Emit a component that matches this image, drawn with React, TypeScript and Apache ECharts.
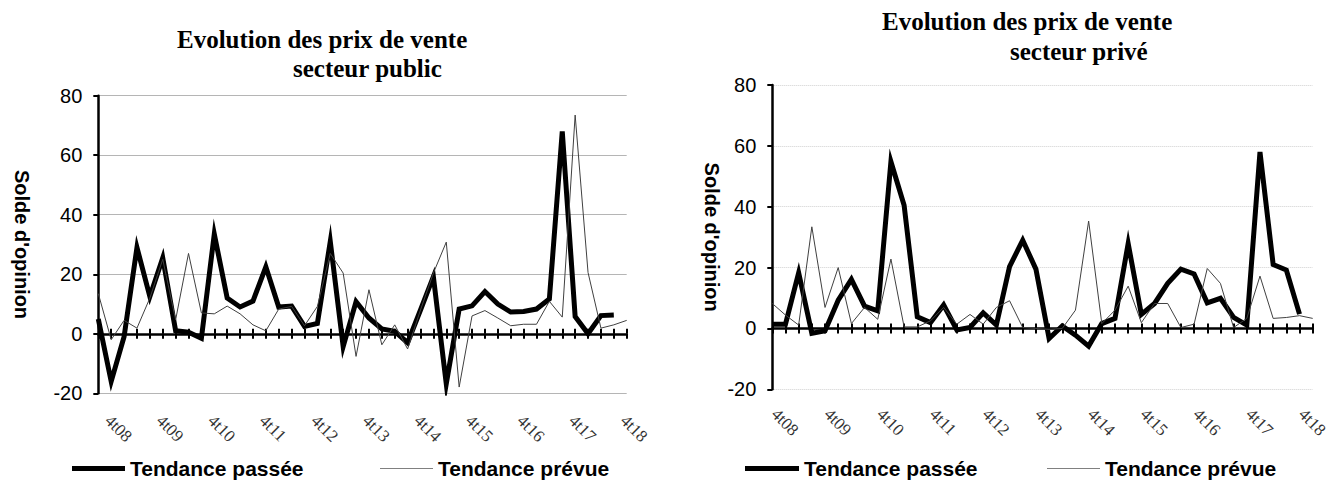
import React, { useEffect, useRef } from "react";
import * as echarts from "echarts";

const QUARTERS = ['4t08','1t09','2t09','3t09','4t09','1t10','2t10','3t10','4t10','1t11','2t11','3t11','4t11','1t12','2t12','3t12','4t12','1t13','2t13','3t13','4t13','1t14','2t14','3t14','4t14','1t15','2t15','3t15','4t15','1t16','2t16','3t16','4t16','1t17','2t17','3t17','4t17','1t18','2t18','3t18','4t18','1t19'];

const Y_TICKS = [-20, 0, 20, 40, 60, 80];

const PUBLIC_PASSEE = [5, -16, -1, 29, 12.5, 25.5, 1, 0.5, -1.5, 33.5, 12, 9, 11, 22.5, 9, 9.3, 2.5, 3.5, 31, -4.3, 10.8, 5.3, 1.6, 0.8, -3, 8, 19.2, -16.8, 8.3, 9.4, 14.2, 10, 7.3, 7.5, 8.3, 11.7, 68, 5.8, 0, 6.1, 6.3];
const PUBLIC_PREVUE = [13.5, -2, 4.5, 1.9, 12, 25, 4.7, 27, 7, 6.7, 9.3, 6.7, 3, 1, 8.3, 9.2, 2.7, 9.2, 27, 20.4, -7.6, 14.8, -3.7, 3, -5.1, 8, 20.4, 30.8, -17.9, 6, 7.8, 5.3, 2.7, 3.2, 3.2, 10.9, 5.6, 73.5, 20.6, 1.9, 3, 4.5];

const PRIVE_PASSEE = [1.4, 1.4, 18.3, -1.6, -0.8, 9.3, 16.1, 7.3, 5.8, 54.8, 40.5, 3.8, 1.9, 7.7, -0.5, 0.3, 5.1, 1.1, 20.3, 29, 19.5, -3.3, 0.8, -2.2, -5.8, 1.6, 3.3, 27.9, 4.6, 8.2, 14.8, 19.5, 17.9, 8.4, 9.9, 3.6, 1.1, 58, 21, 19.2, 4.7];
const PRIVE_PREVUE = [8.2, 4.4, 1.1, 33.4, 6.9, 20, 1.6, 6.9, 3, 22.8, 0.5, 0.5, 2.5, 6.9, 1.4, 4.6, 1.4, 6.9, 9.1, 0.3, 0, -0.3, 0, 6, 35.3, 1.6, 6, 13.9, 1.9, 8.2, 8.2, 0.3, 1.4, 19.7, 14.8, 0.3, 3.3, 17.2, 3.3, 3.6, 4.2, 3.3];

const NAME_PASSEE = "Tendance passée";
const NAME_PREVUE = "Tendance prévue";
const Y_NAME = "Solde d'opinion";
const TITLE_LINE1 = "Evolution des prix de vente";
const TITLE_PUBLIC = "secteur public";
const TITLE_PRIVE = "secteur privé";

const SANS = "'Liberation Sans', Arial, sans-serif";
const SERIF = "'Liberation Serif', 'Times New Roman', serif";

const GRIDS = [
  { left: 98.3, top: 95.7, width: 528.4, height: 297.6, nameGap: 66, label: { margin: 27, pad: 5, valign: "bottom" }, split: { color: "#b5b5b5", width: 1, type: "solid" } },
  { left: 772.3, top: 85, width: 540.4, height: 304.3, nameGap: 50, label: { margin: 20, pad: 3, valign: "middle" }, split: { color: "#d0d0d0", width: 1, type: "dotted" } },
];

function buildOption() {
  const yMin = Y_TICKS[0];
  const yMax = Y_TICKS[Y_TICKS.length - 1];
  const yInterval = Y_TICKS[1] - Y_TICKS[0];

  const xAxes: any[] = [];
  const yAxes: any[] = [];
  GRIDS.forEach((g, gi) => {
    yAxes.push({
      gridIndex: gi,
      type: "value",
      min: yMin,
      max: yMax,
      interval: yInterval,
      name: Y_NAME,
      nameLocation: "middle",
      nameRotate: -90,
      nameGap: g.nameGap,
      nameTextStyle: { fontFamily: SANS, fontWeight: "bold", fontSize: 20, color: "#000" },
      axisLine: { show: true, lineStyle: { color: "#000", width: 2.5 } },
      axisTick: { show: true, length: 5, lineStyle: { color: "#000", width: 2 } },
      axisLabel: { fontFamily: SANS, fontSize: 20, color: "#000", margin: 16 },
      splitLine: { show: true, lineStyle: g.split },
    });
    const zeroOffset = -(0 - yMin) / (yMax - yMin) * g.height;
    // labels axis (at bottom of the plot)
    xAxes.push({
      gridIndex: gi,
      type: "category",
      data: QUARTERS,
      boundaryGap: false,
      position: "bottom",
      axisLine: { show: false, onZero: false },
      axisTick: { show: false },
      splitLine: { show: false },
      axisLabel: {
        interval: 3,
        rotate: -45,
        margin: g.label.margin,
        fontFamily: SERIF,
        fontSize: 17,
        color: "#333",
        align: "left",
        verticalAlign: g.label.valign,
        padding: [0, 0, 0, g.label.pad],
      },
    });
    // zero line with downward ticks
    xAxes.push({
      gridIndex: gi,
      type: "category",
      data: QUARTERS,
      boundaryGap: false,
      position: "bottom",
      axisLine: { show: true, onZero: true, lineStyle: { color: "#000", width: 2.5 } },
      axisTick: { show: true, interval: 0, inside: false, length: 5, lineStyle: { color: "#000", width: 2 } },
      axisLabel: { show: false },
      splitLine: { show: false },
    });
    // upward ticks at zero
    xAxes.push({
      gridIndex: gi,
      type: "category",
      data: QUARTERS,
      boundaryGap: false,
      position: "bottom",
      offset: zeroOffset,
      axisLine: { show: false, onZero: false },
      axisTick: { show: true, interval: 0, inside: true, length: 5, lineStyle: { color: "#000", width: 2 } },
      axisLabel: { show: false },
      splitLine: { show: false },
    });
  });

  const mkSeries = (gi: number, passee: number[], prevue: number[]) => [
    {
      type: "line",
      name: NAME_PASSEE,
      xAxisIndex: gi * 3,
      yAxisIndex: gi,
      data: passee,
      symbol: "none",
      showSymbol: false,
      lineStyle: { color: "#000", width: 5, join: "miter", miterLimit: 8 },
      itemStyle: { color: "#000" },
      z: 3,
    },
    {
      type: "line",
      name: NAME_PREVUE,
      xAxisIndex: gi * 3,
      yAxisIndex: gi,
      data: prevue,
      symbol: "none",
      showSymbol: false,
      lineStyle: { color: "#404040", width: 1, join: "miter", miterLimit: 8 },
      itemStyle: { color: "#404040" },
      z: 4,
    },
  ];

  const legendText = { fontFamily: SANS, fontWeight: "bold", fontSize: 21, color: "#000" };
  const mkLegend = (left: number, name: string, w: number, h: number, color: string) => ({
    left,
    top: 458,
    orient: "horizontal",
    itemWidth: w,
    itemHeight: h,
    padding: 0,
    selectedMode: false,
    data: [{ name, icon: "rect", itemStyle: { color } }],
    textStyle: legendText,
  });

  const titleStyle = { fontFamily: SERIF, fontWeight: "bold", fontSize: 25, fill: "#000" };
  const mkTitle = (x: number, y: number, text: string) => ({
    type: "text",
    x,
    y,
    style: { ...titleStyle, text, textAlign: "left", textVerticalAlign: "middle", verticalAlign: "middle" },
  });

  return {
    animation: false,
    backgroundColor: "#fff",
    grid: GRIDS.map((g) => ({
      left: g.left,
      top: g.top,
      width: g.width,
      height: g.height,
      containLabel: false,
      outerBoundsMode: "none",
    })),
    xAxis: xAxes,
    yAxis: yAxes,
    legend: [
      mkLegend(72, NAME_PASSEE, 53, 5, "#000"),
      mkLegend(380, NAME_PREVUE, 53, 1, "#808080"),
      mkLegend(745, NAME_PASSEE, 54, 5, "#000"),
      mkLegend(1047, NAME_PREVUE, 53, 1, "#808080"),
    ],
    graphic: [
      mkTitle(177, 39, TITLE_LINE1),
      mkTitle(293, 68, TITLE_PUBLIC),
      mkTitle(882, 21, TITLE_LINE1),
      mkTitle(1010, 51, TITLE_PRIVE),
    ],
    series: [...mkSeries(0, PUBLIC_PASSEE, PUBLIC_PREVUE), ...mkSeries(1, PRIVE_PASSEE, PRIVE_PREVUE)],
  };
}

export default function App() {
  const ref = useRef<HTMLDivElement>(null);
  useEffect(() => {
    if (!ref.current) return;
    const chart = echarts.init(ref.current, undefined, { renderer: "svg" });
    chart.setOption(buildOption() as any);
    return () => chart.dispose();
  }, []);
  return (
    <div
      ref={ref}
      style={{ position: "absolute", left: 0, top: 0, width: 1330, height: 481, background: "#fff" }}
    />
  );
}
